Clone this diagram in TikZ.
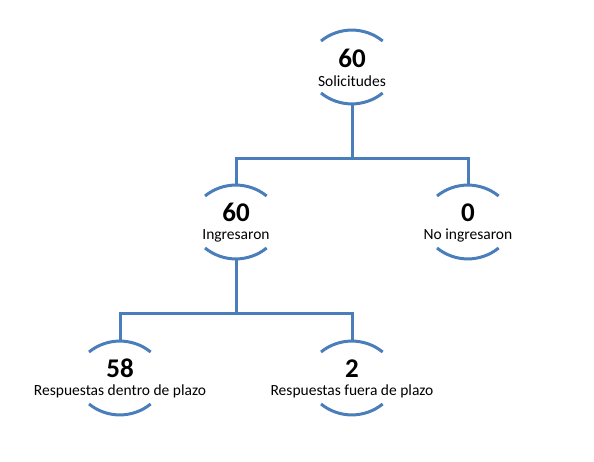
\documentclass[tikz,border=0pt]{standalone}
\usepackage{fontspec}
\setmainfont{Carlito}
\usepackage{tikz}
\definecolor{treeblue}{RGB}{74,126,187}

\begin{document}
\begin{tikzpicture}[x=1pt, y=1pt, yscale=-1,
  treeline/.style={draw=treeblue, line width=3pt},
  box/.style={circle, minimum size=74pt, inner sep=0pt},
  numtext/.style={anchor=base, inner sep=0pt, font=\fontsize{27}{30}\selectfont\bfseries},
  labtext/.style={anchor=base, inner sep=0pt, font=\fontsize{15.5}{18}\selectfont}]
\useasboundingbox (0,0) rectangle (594,462);
\node[box] (sol) at (352,67) {};
\node[box] (ing) at (236,222) {};
\node[box] (noing) at (468,222) {};
\node[box] (dentro) at (120,378) {};
\node[box] (fuera) at (352,378) {};
\node[numtext] (sol-num) at (352,68) {60};
\node[labtext] (sol-txt) at (352,87) {Solicitudes};
\node[numtext] (ing-num) at (236,222) {60};
\node[labtext] (ing-txt) at (236,240) {Ingresaron};
\node[numtext] (noing-num) at (468,222) {0};
\node[labtext] (noing-txt) at (468,240) {No ingresaron};
\node[numtext] (dentro-num) at (120,377) {58};
\node[labtext] (dentro-txt) at (120,395) {Respuestas dentro de plazo};
\node[numtext] (fuera-num) at (352,377) {2};
\node[labtext] (fuera-txt) at (352,395) {Respuestas fuera de plazo};
\foreach \n in {sol,ing,noing,dentro,fuera}{
  \draw[treeline] (\n.center) ++(-31,-26) arc[start angle=-129, end angle=-51, radius=49];
  \draw[treeline] (\n.center) ++(-31,26) arc[start angle=129, end angle=51, radius=49];
}
\draw[treeline] (sol.south) -- ++(0,54) -| (ing.north);
\draw[treeline] (sol.south) -- ++(0,54) -| (noing.north);
\draw[treeline] (ing.south) -- ++(0,54) -| (dentro.north);
\draw[treeline] (ing.south) -- ++(0,54) -| (fuera.north);
\end{tikzpicture}
\end{document}
